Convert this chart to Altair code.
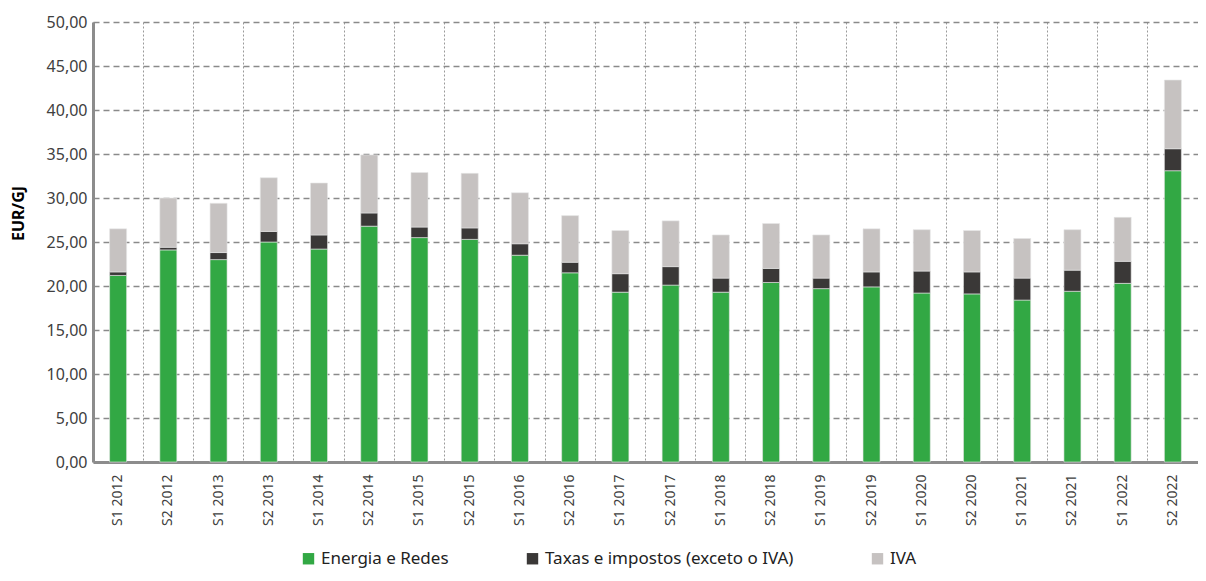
import altair as alt
import pandas as pd

periods = ["S1 2012", "S2 2012", "S1 2013", "S2 2013", "S1 2014", "S2 2014",
           "S1 2015", "S2 2015", "S1 2016", "S2 2016", "S1 2017", "S2 2017",
           "S1 2018", "S2 2018", "S1 2019", "S2 2019", "S1 2020", "S2 2020",
           "S1 2021", "S2 2021", "S1 2022", "S2 2022"]
energia = [21.2, 24.1, 23.0, 25.0, 24.2, 26.8, 25.5, 25.3, 23.5, 21.5, 19.3, 20.1,
           19.3, 20.4, 19.7, 19.9, 19.2, 19.1, 18.4, 19.4, 20.3, 33.1]
taxas = [0.4, 0.3, 0.8, 1.2, 1.6, 1.5, 1.2, 1.3, 1.3, 1.2, 2.1, 2.1,
         1.6, 1.6, 1.2, 1.7, 2.5, 2.5, 2.5, 2.4, 2.5, 2.5]
iva = [4.9, 5.6, 5.6, 6.1, 5.9, 6.6, 6.2, 6.2, 5.8, 5.3, 4.9, 5.2,
       4.9, 5.1, 4.9, 4.9, 4.7, 4.7, 4.5, 4.6, 5.0, 7.8]

series = ["Energia e Redes", "Taxas e impostos (exceto o IVA)", "IVA"]
colors = ["#32a844", "#3a3837", "#c6c2c1"]

rows = []
for i, p in enumerate(periods):
    for k, (name, vals) in enumerate(zip(series, [energia, taxas, iva])):
        rows.append({"periodo": p, "serie": name, "valor": vals[i], "ordem": k})
df = pd.DataFrame(rows)

FONT = "Noto Sans"

chart = alt.Chart(df).mark_bar(size=17, stroke="#e6e6e6", strokeWidth=0.6).encode(
    x=alt.X("periodo:N", sort=periods, title=None,
            scale=alt.Scale(paddingInner=0, paddingOuter=0),
            axis=alt.Axis(labelAngle=270, labelFontSize=14, labelColor="#404040",
                          labelFont=FONT, labelPadding=12, ticks=False,
                          domainColor="#8c8c8c", domainWidth=3,
                          grid=True, bandPosition=0, gridColor="#9a9a9a",
                          gridDash=[2, 2], gridWidth=1, labelBaseline="middle",
                          labelAlign="right")),
    y=alt.Y("valor:Q", stack="zero", title="EUR/GJ",
            scale=alt.Scale(domain=[0, 50], nice=False),
            axis=alt.Axis(values=list(range(0, 51, 5)),
                          labelExpr="replace(format(datum.value, '.2f'), '.', ',')",
                          labelFontSize=16, labelColor="#404040", labelFont=FONT,
                          labelPadding=6, ticks=False,
                          domainColor="#8c8c8c", domainWidth=3,
                          gridColor="#8a8a8a", gridDash=[6, 4], gridWidth=1.5,
                          titleFont=FONT, titleFontSize=16, titleFontWeight="bold",
                          titleColor="#000000", titlePadding=20, titleY=191)),
    color=alt.Color("serie:N", sort=series,
                    scale=alt.Scale(domain=series, range=colors),
                    legend=alt.Legend(title=None, orient="none", direction="horizontal",
                                      legendX=207, legendY=528,
                                      symbolType="square", symbolSize=130,
                                      symbolStrokeWidth=0, labelFontSize=17,
                                      labelFont=FONT, labelColor="#222222",
                                      labelLimit=0,
                                      columnPadding=75, labelOffset=4)),
    order=alt.Order("ordem:Q", sort="ascending"),
).properties(
    width=1105, height=440,
    padding={"left": 85, "top": 14, "right": 0, "bottom": 111},
    autosize=alt.AutoSizeParams(type="none"),
).configure_view(stroke=None)

chart.save("out.html", embed_options={"renderer": "svg", "actions": False})
